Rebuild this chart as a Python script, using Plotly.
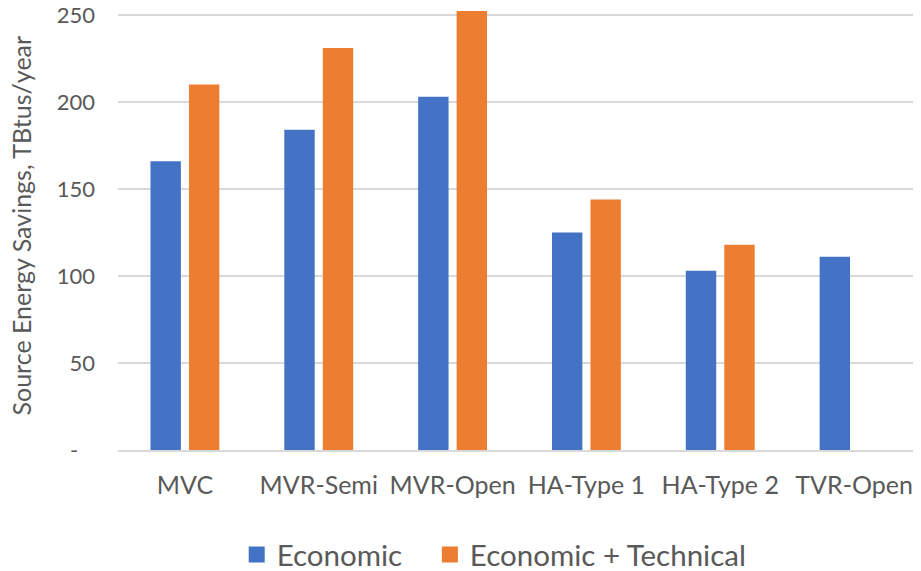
import plotly.graph_objects as go

# Данные
categories = ["MVC", "MVR-Semi", "MVR-Open", "HA-Type 1", "HA-Type 2", "TVR-Open"]
economic = [166, 184, 203, 125, 103, 111]
economic_technical = [210, 231, 253, 144, 118, None]

y_ticks = [0, 50, 100, 150, 200, 250]
y_tick_labels = ["-\u00a0\u00a0\u00a0", "50", "100", "150", "200", "250"]

FONT = "Lato, 'Open Sans', sans-serif"
TEXT = "#595959"
BLUE = "#4472C4"
ORANGE = "#ED7D31"

fig = go.Figure()
fig.add_trace(go.Bar(x=categories, y=economic, name="Economic", showlegend=False,
                     marker=dict(color=BLUE, line=dict(width=0))))
fig.add_trace(go.Bar(x=categories, y=economic_technical, name="Economic + Technical",
                     showlegend=False, marker=dict(color=ORANGE, line=dict(width=0))))

# легенда отдельными маркерами: квадраты крупнее стандартных
for name, clr in [("Economic\u00a0\u00a0\u00a0", BLUE), ("Economic + Technical", ORANGE)]:
    fig.add_trace(go.Scatter(x=[None], y=[None], mode="markers", name=name,
                             marker=dict(symbol="square", size=16, color=clr)))

# страница добавляет отступ body 8px, поэтому фигура на 8px меньше
fig.update_layout(
    width=913, height=563,
    margin=dict(l=110, r=0, t=3, b=121, autoexpand=False),
    paper_bgcolor="white", plot_bgcolor="white",
    font=dict(family=FONT, color=TEXT),
    barmode="group", bargap=0.425, bargroupgap=0.21,
    showlegend=True,
    legend=dict(orientation="h", x=0.4685, xanchor="center", y=-0.239, yanchor="middle",
                font=dict(size=29.5, color=TEXT), itemwidth=30),
)

fig.update_xaxes(showgrid=False, showline=True, linecolor="#D9D9D9", linewidth=2,
                 automargin=False,
                 ticks="", tickfont=dict(size=25, color=TEXT), ticklabelstandoff=12)
fig.update_yaxes(range=[0, 252.3], tickvals=y_ticks, ticktext=y_tick_labels,
                 automargin=False, ticklabeloverflow="allow",
                 showgrid=True, gridcolor="#D9D9D9", gridwidth=2, zeroline=False,
                 showline=False, ticks="", tickfont=dict(size=22, color=TEXT),
                 ticklabelstandoff=22)

fig.add_annotation(text="Source Energy Savings, TBtus/year", textangle=-90,
                   xref="paper", yref="paper", x=-0.121, y=0.511,
                   xanchor="center", yanchor="middle", showarrow=False,
                   font=dict(size=25, color=TEXT))

fig.write_html("out.html")
